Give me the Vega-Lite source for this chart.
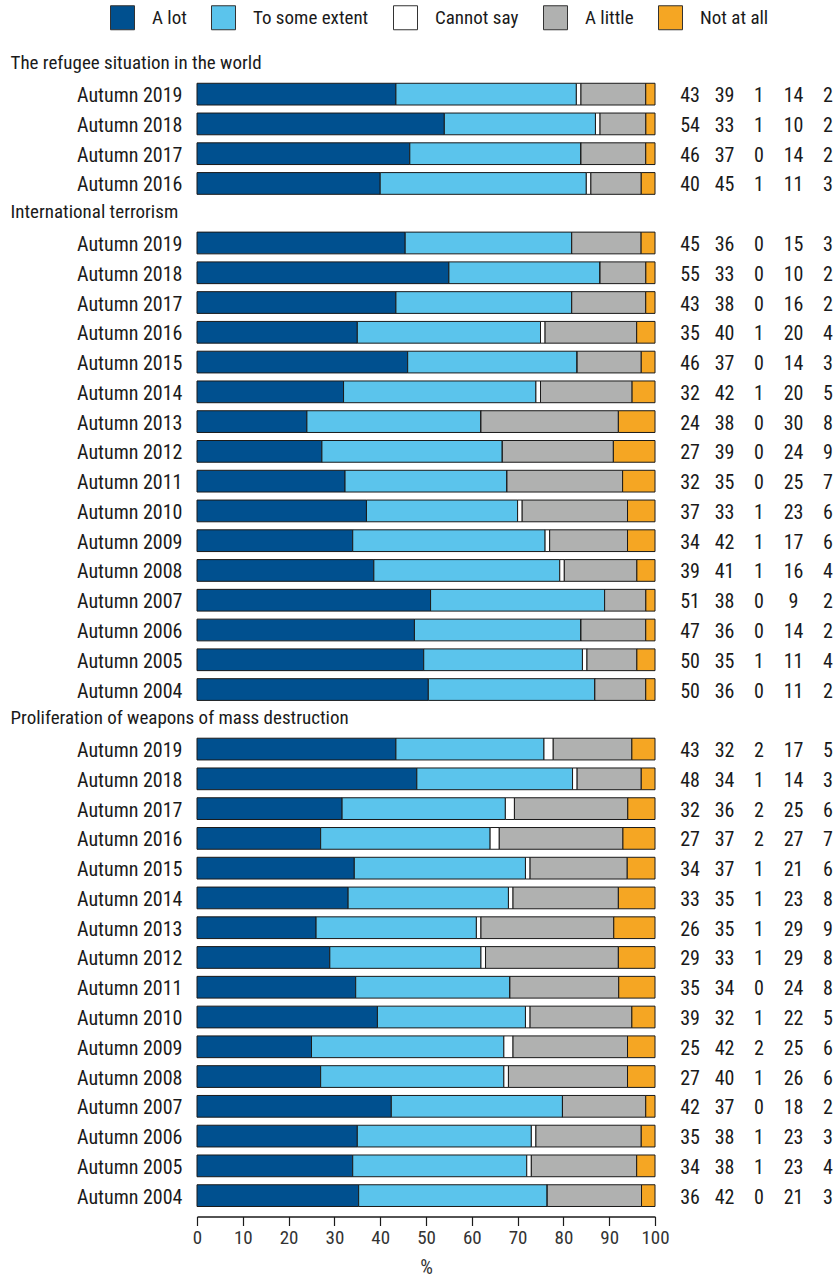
{
  "$schema": "https://vega.github.io/schema/vega-lite/v6.json",
  "autosize": {"type": "none"},
  "padding": {"left": 197, "top": 43.5, "right": 182, "bottom": 65.5},
  "width": 458,
  "height": 1173,
  "config": {
    "font": "Roboto Condensed, Liberation Sans Narrow, Liberation Sans, sans-serif",
    "view": {"stroke": null}
  },
  "data": {
    "values": [
      {"k": "R|Autumn 2019", "A lot": 43, "To some extent": 39, "Cannot say": 1, "A little": 14, "Not at all": 2},
      {"k": "R|Autumn 2018", "A lot": 54, "To some extent": 33, "Cannot say": 1, "A little": 10, "Not at all": 2},
      {"k": "R|Autumn 2017", "A lot": 46, "To some extent": 37, "Cannot say": 0, "A little": 14, "Not at all": 2},
      {"k": "R|Autumn 2016", "A lot": 40, "To some extent": 45, "Cannot say": 1, "A little": 11, "Not at all": 3},
      {"k": "T|Autumn 2019", "A lot": 45, "To some extent": 36, "Cannot say": 0, "A little": 15, "Not at all": 3},
      {"k": "T|Autumn 2018", "A lot": 55, "To some extent": 33, "Cannot say": 0, "A little": 10, "Not at all": 2},
      {"k": "T|Autumn 2017", "A lot": 43, "To some extent": 38, "Cannot say": 0, "A little": 16, "Not at all": 2},
      {"k": "T|Autumn 2016", "A lot": 35, "To some extent": 40, "Cannot say": 1, "A little": 20, "Not at all": 4},
      {"k": "T|Autumn 2015", "A lot": 46, "To some extent": 37, "Cannot say": 0, "A little": 14, "Not at all": 3},
      {"k": "T|Autumn 2014", "A lot": 32, "To some extent": 42, "Cannot say": 1, "A little": 20, "Not at all": 5},
      {"k": "T|Autumn 2013", "A lot": 24, "To some extent": 38, "Cannot say": 0, "A little": 30, "Not at all": 8},
      {"k": "T|Autumn 2012", "A lot": 27, "To some extent": 39, "Cannot say": 0, "A little": 24, "Not at all": 9},
      {"k": "T|Autumn 2011", "A lot": 32, "To some extent": 35, "Cannot say": 0, "A little": 25, "Not at all": 7},
      {"k": "T|Autumn 2010", "A lot": 37, "To some extent": 33, "Cannot say": 1, "A little": 23, "Not at all": 6},
      {"k": "T|Autumn 2009", "A lot": 34, "To some extent": 42, "Cannot say": 1, "A little": 17, "Not at all": 6},
      {"k": "T|Autumn 2008", "A lot": 39, "To some extent": 41, "Cannot say": 1, "A little": 16, "Not at all": 4},
      {"k": "T|Autumn 2007", "A lot": 51, "To some extent": 38, "Cannot say": 0, "A little": 9, "Not at all": 2},
      {"k": "T|Autumn 2006", "A lot": 47, "To some extent": 36, "Cannot say": 0, "A little": 14, "Not at all": 2},
      {"k": "T|Autumn 2005", "A lot": 50, "To some extent": 35, "Cannot say": 1, "A little": 11, "Not at all": 4},
      {"k": "T|Autumn 2004", "A lot": 50, "To some extent": 36, "Cannot say": 0, "A little": 11, "Not at all": 2},
      {"k": "W|Autumn 2019", "A lot": 43, "To some extent": 32, "Cannot say": 2, "A little": 17, "Not at all": 5},
      {"k": "W|Autumn 2018", "A lot": 48, "To some extent": 34, "Cannot say": 1, "A little": 14, "Not at all": 3},
      {"k": "W|Autumn 2017", "A lot": 32, "To some extent": 36, "Cannot say": 2, "A little": 25, "Not at all": 6},
      {"k": "W|Autumn 2016", "A lot": 27, "To some extent": 37, "Cannot say": 2, "A little": 27, "Not at all": 7},
      {"k": "W|Autumn 2015", "A lot": 34, "To some extent": 37, "Cannot say": 1, "A little": 21, "Not at all": 6},
      {"k": "W|Autumn 2014", "A lot": 33, "To some extent": 35, "Cannot say": 1, "A little": 23, "Not at all": 8},
      {"k": "W|Autumn 2013", "A lot": 26, "To some extent": 35, "Cannot say": 1, "A little": 29, "Not at all": 9},
      {"k": "W|Autumn 2012", "A lot": 29, "To some extent": 33, "Cannot say": 1, "A little": 29, "Not at all": 8},
      {"k": "W|Autumn 2011", "A lot": 35, "To some extent": 34, "Cannot say": 0, "A little": 24, "Not at all": 8},
      {"k": "W|Autumn 2010", "A lot": 39, "To some extent": 32, "Cannot say": 1, "A little": 22, "Not at all": 5},
      {"k": "W|Autumn 2009", "A lot": 25, "To some extent": 42, "Cannot say": 2, "A little": 25, "Not at all": 6},
      {"k": "W|Autumn 2008", "A lot": 27, "To some extent": 40, "Cannot say": 1, "A little": 26, "Not at all": 6},
      {"k": "W|Autumn 2007", "A lot": 42, "To some extent": 37, "Cannot say": 0, "A little": 18, "Not at all": 2},
      {"k": "W|Autumn 2006", "A lot": 35, "To some extent": 38, "Cannot say": 1, "A little": 23, "Not at all": 3},
      {"k": "W|Autumn 2005", "A lot": 34, "To some extent": 38, "Cannot say": 1, "A little": 23, "Not at all": 4},
      {"k": "W|Autumn 2004", "A lot": 36, "To some extent": 42, "Cannot say": 0, "A little": 21, "Not at all": 3}
    ]
  },
  "transform": [
    {"fold": ["A lot", "To some extent", "Cannot say", "A little", "Not at all"], "as": ["answer", "pct"]},
    {
      "lookup": "answer",
      "from": {
        "data": {"values": [
          {"answer": "A lot", "rank": 1},
          {"answer": "To some extent", "rank": 2},
          {"answer": "Cannot say", "rank": 3},
          {"answer": "A little", "rank": 4},
          {"answer": "Not at all", "rank": 5}
        ]},
        "key": "answer",
        "fields": ["rank"]
      }
    }
  ],
  "encoding": {
    "y": {
      "field": "k",
      "type": "nominal",
      "sort": null,
      "scale": {
        "domain": [
          "H1|The refugee situation in the world",
          "R|Autumn 2019", "R|Autumn 2018", "R|Autumn 2017", "R|Autumn 2016",
          "H2|International terrorism",
          "T|Autumn 2019", "T|Autumn 2018", "T|Autumn 2017", "T|Autumn 2016", "T|Autumn 2015", "T|Autumn 2014", "T|Autumn 2013", "T|Autumn 2012",
          "T|Autumn 2011", "T|Autumn 2010", "T|Autumn 2009", "T|Autumn 2008", "T|Autumn 2007", "T|Autumn 2006", "T|Autumn 2005", "T|Autumn 2004",
          "H3|Proliferation of weapons of mass destruction",
          "W|Autumn 2019", "W|Autumn 2018", "W|Autumn 2017", "W|Autumn 2016", "W|Autumn 2015", "W|Autumn 2014", "W|Autumn 2013", "W|Autumn 2012",
          "W|Autumn 2011", "W|Autumn 2010", "W|Autumn 2009", "W|Autumn 2008", "W|Autumn 2007", "W|Autumn 2006", "W|Autumn 2005", "W|Autumn 2004"
        ],
        "paddingInner": 0.27,
        "paddingOuter": 0.336
      },
      "axis": {
        "title": null,
        "domain": false,
        "ticks": false,
        "tickSize": 0,
        "labelExpr": "split(datum.value, '|')[1]",
        "labelFontSize": {"condition": {"test": "indexof(datum.value, 'H') === 0", "value": 19}, "value": 20},
        "labelColor": "#1a1a1a",
        "labelLimit": 0,
        "labelBaseline": "middle",
        "labelAlign": {"condition": {"test": "indexof(datum.value, 'H') === 0", "value": "left"}, "value": "right"},
        "labelPadding": {"condition": {"test": "indexof(datum.value, 'H') === 0", "value": 187}, "value": 15},
        "labelOffset": {"condition": {"test": "indexof(datum.value, 'H') === 0", "value": -1}, "value": 2}
      }
    }
  },
  "layer": [
    {
      "mark": {"type": "bar", "stroke": "#1a1a1a", "strokeWidth": 1},
      "encoding": {
        "x": {
          "field": "pct",
          "type": "quantitative",
          "stack": "normalize",
          "scale": {"domain": [0, 1], "nice": false},
          "axis": {
            "values": [0, 0.1, 0.2, 0.3, 0.4, 0.5, 0.6, 0.7, 0.8, 0.9, 1],
            "labelExpr": "'' + round(datum.value * 100)",
            "title": "%",
            "titleFontSize": 20,
            "titleFontWeight": "normal",
            "titleColor": "#333333",
            "titlePadding": 10,
            "grid": false,
            "domainColor": "#1a1a1a",
            "domainWidth": 1.5,
            "tickColor": "#1a1a1a",
            "tickSize": 9,
            "tickWidth": 1.2,
            "labelFontSize": 19,
            "labelColor": "#333333",
            "labelPadding": 3,
            "labelFlush": false
          }
        },
        "order": {"field": "rank", "type": "quantitative", "sort": "ascending"},
        "color": {
          "field": "answer",
          "type": "nominal",
          "sort": ["A lot", "To some extent", "Cannot say", "A little", "Not at all"],
          "scale": {
            "domain": ["A lot", "To some extent", "Cannot say", "A little", "Not at all"],
            "range": ["#00508f", "#5bc4ec", "#ffffff", "#b0b1b0", "#f5a623"]
          },
          "legend": {
            "title": null,
            "orient": "none",
            "direction": "horizontal",
            "legendX": -87,
            "legendY": -38.5,
            "symbolType": "square",
            "symbolSize": 576,
            "symbolStrokeColor": "#333333",
            "symbolStrokeWidth": 1,
            "symbolOpacity": 1,
            "labelFontSize": 19,
            "labelColor": "#1a1a1a",
            "labelOffset": 17,
            "columnPadding": 22,
            "labelLimit": 0
          }
        }
      }
    },
    {
      "mark": {"type": "text", "fontSize": 20, "color": "#1a1a1a", "baseline": "middle", "dy": 2},
      "encoding": {
        "x": {
          "field": "answer",
          "type": "nominal",
          "sort": ["A lot", "To some extent", "Cannot say", "A little", "Not at all"],
          "scale": {"type": "point", "domain": ["A lot", "To some extent", "Cannot say", "A little", "Not at all"], "range": [493, 631], "padding": 0},
          "axis": null
        },
        "text": {"field": "pct", "type": "quantitative"}
      }
    }
  ],
  "resolve": {"scale": {"x": "independent"}, "axis": {"x": "independent"}}
}
